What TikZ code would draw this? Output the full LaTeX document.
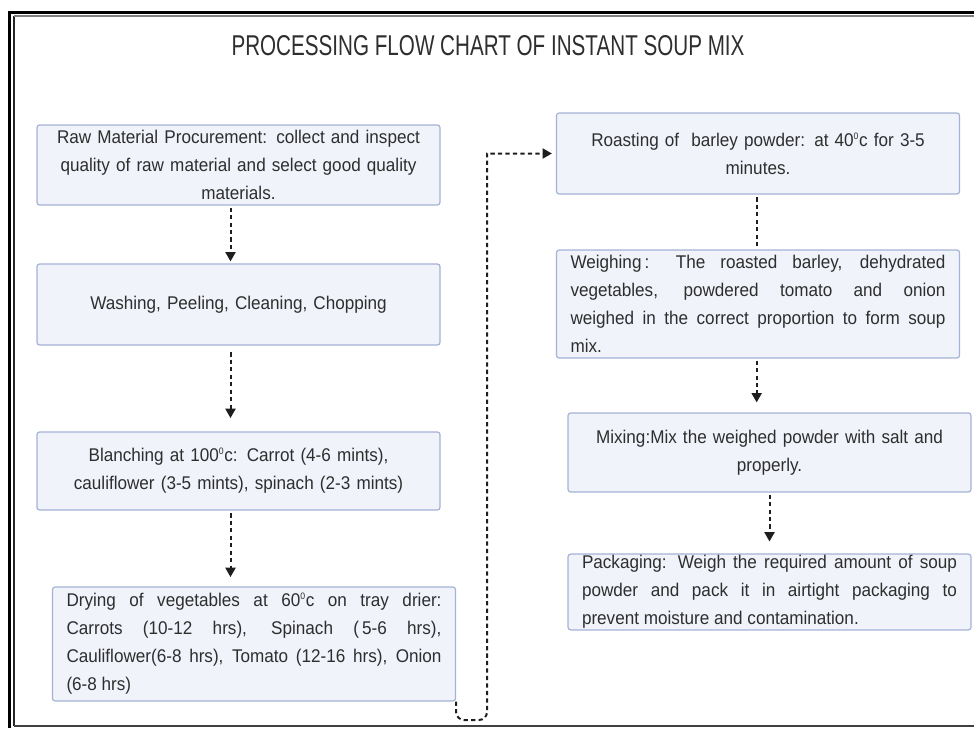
\documentclass[tikz,border=0pt]{standalone}
\usepackage{fontspec}
\setmainfont[FakeStretch=0.93]{Liberation Sans}
\newfontfamily\titlefont[FakeStretch=0.72]{Liberation Sans}
\usepackage{tikz}
\usetikzlibrary{arrows.meta, positioning}
\definecolor{boxfill}{HTML}{F0F3FA}
\definecolor{boxline}{HTML}{A4B2D4}
\definecolor{inktext}{HTML}{2E2E2E}
\definecolor{inkline}{HTML}{1E1E1E}

\begin{document}
\begin{tikzpicture}[>=Stealth, x=0.75pt, y=-0.75pt,
    stepbox/.style={rectangle, draw=boxline, line width=0.9pt, fill=boxfill, rounded corners=2pt,
        text=inktext, font=\fontsize{13.8}{21}\selectfont, text width=281.25pt,
        inner xsep=10.5pt, inner ysep=1pt, minimum width=302.25pt},
    flow/.style={inkline, line width=1.5pt, dash pattern=on 3.2pt off 2.4pt,
        -{Triangle[width=7.5pt,length=7pt]}},
    flowline/.style={inkline, line width=1.5pt, dash pattern=on 3.2pt off 2.4pt}]
                \useasboundingbox (0,0) rectangle (974,728);
                \draw[line width=2.3pt] (9.5,728) -- (9.5,12.5) -- (974,12.5);
                \draw[black!85, line width=1.2pt] (14,726) -- (14,16);
                \draw[gray, line width=1.4pt] (14,16) -- (974,16);
                \draw[black!75, line width=1.5pt] (14,726) -- (974,726);
                \node[text=inktext, font=\titlefont\fontsize{21.5}{25}\selectfont] (title) at (488,46) {PROCESSING FLOW CHART OF INSTANT SOUP MIX};
                \node[stepbox, align=center, minimum height=60pt] (procure) at (238.5,165) {Raw Material Procurement: collect and inspect\\ quality of raw material and select good quality\\ materials.};
                \node[stepbox, align=center, minimum height=60.75pt] (wash) at (238.5,304.5) {Washing, Peeling, Cleaning, Chopping};
                \node[stepbox, align=center, minimum height=58.5pt] (blanch) at (238.5,471) {Blanching at 100\textsuperscript{\scriptsize 0}c: Carrot (4-6 mints),\\ cauliflower (3-5 mints), spinach (2-3 mints)};
                \node[stepbox, align=justify, minimum height=85.5pt] (dry) at (254,644) {Drying of vegetables at 60\textsuperscript{\scriptsize 0}c on tray drier:\linebreak Carrots (10-12 hrs), Spinach (\,5-6 hrs),\linebreak Cauliflower(6-8 hrs), Tomato (12-16 hrs), Onion\linebreak (6-8 hrs)};
                \node[stepbox, align=center, minimum height=60.75pt] (roast) at (758,153.5) {Roasting of\ \ barley powder: at 40\textsuperscript{\scriptsize 0}c for 3-5\\ minutes.};
                \node[stepbox, align=justify, minimum height=81pt] (weigh) at (758,304) {Weighing\,: The roasted barley, dehydrated\linebreak vegetables, powdered tomato and onion\linebreak weighed in the correct proportion to form soup\linebreak mix.};
                \node[stepbox, align=center, minimum height=59.25pt] (mix) at (769.5,452.5) {Mixing:Mix the weighed powder with salt and\\ properly.};
                \node[stepbox, align=justify, minimum height=55.5pt] (pack) at (769.5,592) {Packaging: Weigh the required amount of soup\linebreak powder and pack it in airtight packaging to\linebreak prevent moisture and contamination.};
                \draw[flow, shorten <=1.5pt, shorten >=1.5pt] ([xshift=-6pt]procure.south) -- ([xshift=-6pt]wash.north);
                \draw[flow, shorten <=5pt, shorten >=10pt] ([xshift=-6pt]wash.south) -- ([xshift=-6pt]blanch.north);
                \draw[flow, shorten <=2pt, shorten >=7pt] ([xshift=-6pt]blanch.south) -- ([xshift=-6pt]blanch.south |- dry.north);
                \coordinate (loopturn) at (487,720);
                \draw[flow, shorten >=3pt] (dry.south east) [rounded corners=6pt] |- (loopturn) [sharp corners] |- (roast.west);
                \draw[flowline, shorten <=2pt, shorten >=1.5pt] ([xshift=-1pt]roast.south) -- ([xshift=-1pt]weigh.north);
                \draw[flow, shorten <=1.5pt, shorten >=7.5pt] ([xshift=-1pt]weigh.south) -- ([xshift=-1pt]weigh.south |- mix.north);
                \draw[flow, shorten <=1.5pt, shorten >=9pt] (mix.south) -- (pack.north);
            \end{tikzpicture}
\end{document}
